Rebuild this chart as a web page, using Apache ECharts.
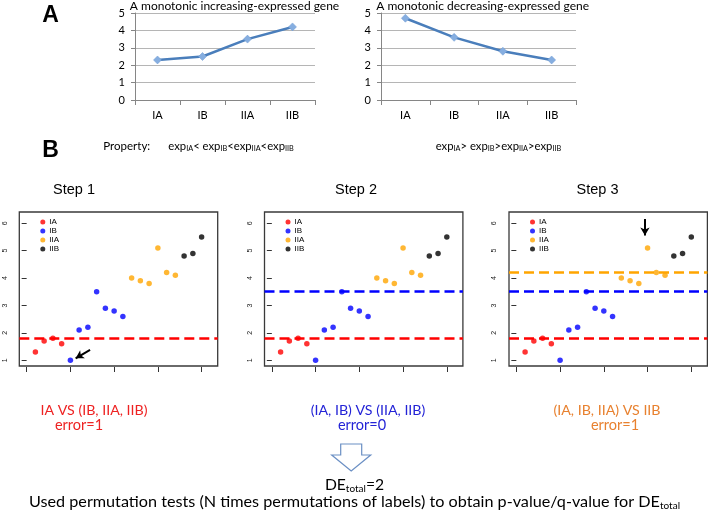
<!DOCTYPE html>
<html><head><meta charset="utf-8">
<script src="https://cdn.jsdelivr.net/npm/echarts@6/dist/echarts.min.js"></script>
<style>html,body{margin:0;padding:0;background:#fff}#c{width:708px;height:510px}</style>
</head><body><div id="c"></div>
<script>
// ---- data ----
const stageCats = ['IA', 'IB', 'IIA', 'IIB'];
const increasingExp = [2.3, 2.5, 3.5, 4.2];
const decreasingExp = [4.7, 3.6, 2.8, 2.3];
const groupNames = ['IA', 'IB', 'IIA', 'IIB'];
const valsIA = [1.3, 1.7, 1.8, 1.6];
const valsIB = [1.0, 2.1, 2.2, 3.5, 2.9, 2.8, 2.6];
const valsIIA = [4.0, 3.9, 3.8, 5.1, 4.2, 4.1];
const valsIIB = [4.8, 4.9, 5.5];
const cutoffs = [1.8, 3.5, 4.2];
const yTicksB = [1, 2, 3, 4, 5, 6];
const xTicksB = [0, 5, 10, 15, 20];
const stepTitles = ['Step 1', 'Step 2', 'Step 3'];
const comparisons = ['IA VS (IB, IIA, IIB)', '(IA, IB) VS (IIA, IIB)', '(IA, IB, IIA) VS IIB'];
const errors = ['error=1', 'error=0', 'error=1'];
const arrowStep1 = [[7.25, 1.38], [5.6, 1.07]];
const arrowStep3 = [[14.7, 6.15], [14.7, 5.55]];

// ---- styles / layout ----
const groupColors = ['#ff0000', '#0000ff', '#ffa500', '#000000'];
const textColors = ['#ee2222', '#2323d6', '#e8812f'];
const excelFont = 'Lato';
const rFont = 'Liberation Sans';
const boxLefts = [19.3, 264.5, 509];
const stepTitleX = [74, 356, 597.5];
const compX = [94, 368, 607];
const errX = [79, 362, 615];

const groupVals = [valsIA, valsIB, valsIIA, valsIIB];
const starts = [];
let acc = 0;
groupVals.forEach(v => { starts.push(acc); acc += v.length; });

const chart = echarts.init(document.getElementById('c'), null, {renderer: 'canvas'});

const grids = [
  {left: 135, top: 13, width: 180, height: 87},
  {left: 381, top: 13, width: 195, height: 87}
];
boxLefts.forEach(l => grids.push({left: l, top: 212, width: 198.4, height: 154, show: true, borderColor: '#3a3a3a', borderWidth: 1.3, backgroundColor: 'transparent'}));

const xAxes = [], yAxes = [];
[0, 1].forEach(i => {
  xAxes.push({type: 'category', gridIndex: i, data: stageCats, boundaryGap: true,
    axisLine: {lineStyle: {color: '#868686', width: 1}},
    axisTick: {show: true, length: 5, lineStyle: {color: '#868686'}},
    axisLabel: {fontSize: 11, color: '#000', margin: 10, fontFamily: excelFont}});
  yAxes.push({type: 'value', gridIndex: i, min: 0, max: 5, interval: 1,
    axisLine: {show: true, lineStyle: {color: '#868686'}},
    axisTick: {show: true, length: 4, lineStyle: {color: '#868686'}},
    splitLine: {lineStyle: {color: '#b5b5b5', width: 1}},
    axisLabel: {fontSize: 11, color: '#000', margin: 10, fontFamily: excelFont}});
});
[2, 3, 4].forEach(i => {
  xAxes.push({type: 'value', gridIndex: i, min: -0.84, max: 21.84, offset: 1,
    axisLine: {show: false}, splitLine: {show: false},
    axisTick: {show: true, length: 5, customValues: xTicksB, lineStyle: {color: '#333'}},
    axisLabel: {show: false}});
  yAxes.push({type: 'value', gridIndex: i, min: 0.79, max: 6.41, offset: 4,
    axisLine: {show: false}, splitLine: {show: false},
    axisTick: {show: true, length: 5, customValues: yTicksB, lineStyle: {color: '#333'}},
    axisLabel: {show: true, customValues: yTicksB, rotate: 90, fontSize: 7, color: '#222', margin: 7, fontFamily: rFont}});
});

const series = [];
[increasingExp, decreasingExp].forEach((vals, i) => {
  series.push({type: 'line', xAxisIndex: i, yAxisIndex: i, data: vals,
    symbol: 'diamond', symbolSize: 8,
    lineStyle: {color: '#4a7ebb', width: 2.5},
    itemStyle: {color: '#86aee0', borderColor: '#6f9bd2', borderWidth: 0.5}});
});
stepTitles.forEach((t, s) => {
  groupVals.forEach((vals, g) => {
    const ser = {type: 'scatter', name: groupNames[g], xAxisIndex: 2 + s, yAxisIndex: 2 + s,
      data: vals.map((v, k) => [starts[g] + k + 1, v]),
      symbolSize: 5.5, itemStyle: {color: groupColors[g]}, z: 3};
    if (g === 0) {
      ser.markLine = {silent: true, symbol: 'none', animation: false, label: {show: false},
        data: cutoffs.slice(0, s + 1).map((c, k) => ({yAxis: c,
          lineStyle: {color: groupColors[k], type: [10, 5], width: 2.5}}))};
    }
    if ((s === 0 && g === 1) || (s === 2 && g === 2)) {
      const a = s === 0 ? arrowStep1 : arrowStep3;
      ser.markLine = {silent: true, symbol: ['none', 'arrow'], symbolSize: [7, 8], animation: false,
        label: {show: false},
        data: [[{coord: a[0]}, {coord: a[1]}]],
        lineStyle: {color: '#000', type: 'solid', width: 2}};
    }
    series.push(ser);
  });
});

const legends = boxLefts.map(l => ({data: groupNames, left: l + 21, top: 217.5, orient: 'vertical',
  icon: 'circle', itemWidth: 5, itemHeight: 5, itemGap: 0, padding: 0, selectedMode: false,
  textStyle: {fontSize: 8, lineHeight: 9, color: '#000', fontFamily: rFont, padding: [0, 0, 0, -1]}}));

function txt(x, y, text, o) {
  return Object.assign({type: 'text', x: x, y: y, silent: true,
    style: Object.assign({text: text, fill: '#000', align: 'center', verticalAlign: 'middle',
      fontFamily: excelFont, fontSize: 11}, o || {})});
}
const subRich = (size, sub, pad) => ({
  n: {fontSize: size, fontFamily: excelFont, fill: '#000'},
  s: {fontSize: sub, fontFamily: excelFont, fill: '#000', padding: [pad, 0, 0, 0]}
});

const graphics = [
  txt(50.5, 16, 'A', {fontFamily: rFont, fontWeight: 'bold', fontSize: 23}),
  txt(50.5, 150.5, 'B', {fontFamily: rFont, fontWeight: 'bold', fontSize: 23}),
  txt(234.5, 6, 'A monotonic increasing-expressed gene', {fontSize: 12}),
  txt(482.7, 6, 'A monotonic decreasing-expressed gene', {fontSize: 12}),
  txt(103.3, 146, 'Property:', {align: 'left', fontSize: 11.5}),
  txt(168.3, 146, '{n|exp}{s|IA}{n|< exp}{s|IB}{n|<exp}{s|IIA}{n|<exp}{s|IIB}', {align: 'left', rich: subRich(11.3, 7.3, 5)}),
  txt(435.7, 146, '{n|exp}{s|IA}{n|> exp}{s|IB}{n|>exp}{s|IIA}{n|>exp}{s|IIB}', {align: 'left', rich: subRich(11.3, 7.3, 5)}),
  {type: 'polygon', silent: true, shape: {points: [[340.7, 444], [361.7, 444], [361.7, 455], [370.7, 455], [351.2, 471], [331.7, 455], [340.7, 455]]},
    style: {fill: '#fff', stroke: '#6a8fc4', lineWidth: 1.2}},
  txt(354.5, 485, '{n|DE}{s|total}{n|=2}', {rich: subRich(15.7, 10, 7)}),
  txt(354.5, 502, '{n|Used permutation tests (N times permutations of labels) to obtain p-value/q-value for DE}{s|total}', {rich: subRich(16.2, 10, 7)})
];
stepTitles.forEach((t, i) => {
  graphics.push(txt(stepTitleX[i], 190, t, {fontFamily: rFont, fontSize: 14.5}));
  graphics.push(txt(compX[i], 410, comparisons[i], {fill: textColors[i], fontSize: 14.2}));
  graphics.push(txt(errX[i], 425.5, errors[i], {fill: textColors[i], fontSize: 14.5}));
});

chart.setOption({
  animation: false,
  grid: grids, xAxis: xAxes, yAxis: yAxes, series: series, legend: legends,
  graphic: graphics
});
</script></body></html>
